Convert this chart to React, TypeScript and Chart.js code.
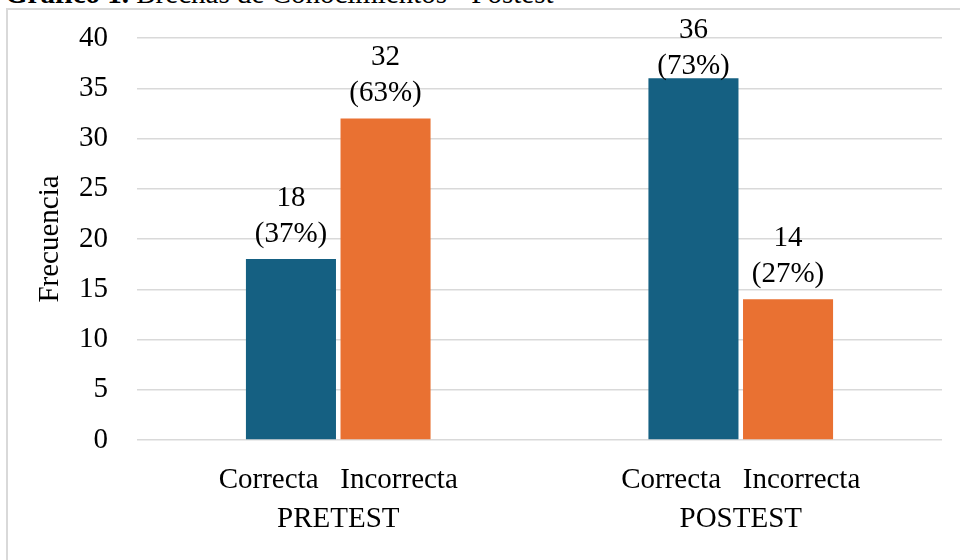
import React, { useEffect, useRef } from "react";
import { Chart, registerables } from "chart.js";

Chart.register(...registerables);

const groups = ["PRETEST", "POSTEST"];
const subLabel = "Correcta   Incorrecta";
const seriesNames = ["Correcta", "Incorrecta"];
const correcta = [18, 36];
const incorrecta = [32, 14];
const correctaPct = ["37%", "73%"];
const incorrectaPct = ["63%", "27%"];
const yTicks = { min: 0, max: 40, step: 5 };
const titleBold = "Gráfico 1.";
const titleRest = " Brechas de Conocimientos - Postest";
const yTitle = "Frecuencia";

const FONT = "'Liberation Serif', 'Times New Roman', serif";
const BLUE = "#156082";
const ORANGE = "#E97132";
const GRID = "#D9D9D9";

export default function App() {
  const ref = useRef<HTMLCanvasElement | null>(null);

  useEffect(() => {
    if (!ref.current) return;
    const pcts = [correctaPct, incorrectaPct];
    const labelPlugin = {
      id: "valueLabels",
      afterDatasetsDraw(chart: any) {
        const ctx = chart.ctx;
        ctx.save();
        ctx.font = `29px ${FONT}`;
        ctx.fillStyle = "#000";
        ctx.textAlign = "center";
        ctx.textBaseline = "middle";
        chart.data.datasets.forEach((ds: any, di: number) => {
          const meta = chart.getDatasetMeta(di);
          meta.data.forEach((bar: any, i: number) => {
            const lines = [String(ds.data[i]), `(${pcts[di][i]})`];
            let first = bar.y - 61;
            const minFirst = chart.chartArea.top - 8;
            if (first < minFirst) first = minFirst;
            lines.forEach((t, li) => {
              ctx.fillText(t, bar.x, first + li * 36);
            });
          });
        });
        ctx.restore();
      },
    };

    const chart = new Chart(ref.current, {
      type: "bar",
      data: {
        labels: groups.map((g) => [subLabel, g]),
        datasets: [
          {
            label: seriesNames[0],
            data: correcta,
            backgroundColor: BLUE,
            categoryPercentage: 0.47,
            barPercentage: 0.952,
          },
          {
            label: seriesNames[1],
            data: incorrecta,
            backgroundColor: ORANGE,
            categoryPercentage: 0.47,
            barPercentage: 0.952,
          },
        ],
      },
      options: {
        animation: false,
        responsive: false,
        maintainAspectRatio: false,
        layout: { padding: { left: 0, top: 38, right: 18, bottom: 0 } },
        plugins: {
          legend: { display: false },
          tooltip: { enabled: false },
        },
        scales: {
          x: {
            grid: { display: false },
            border: { display: false },
            ticks: {
              color: "#000",
              font: { family: FONT, size: 29, lineHeight: 1.345 },
              padding: 13,
              maxRotation: 0,
              autoSkip: false,
            },
            afterFit: (s: any) => {
              s.height = 120;
            },
          },
          y: {
            min: yTicks.min,
            max: yTicks.max,
            grid: {
              color: GRID,
              lineWidth: 1.5,
              drawTicks: true,
              tickLength: 29,
              tickColor: "rgba(0,0,0,0)",
            },
            border: { display: false },
            ticks: {
              stepSize: yTicks.step,
              color: "#000",
              font: { family: FONT, size: 29 },
              padding: 0,
            },
            title: {
              display: true,
              text: yTitle,
              color: "#000",
              font: { family: FONT, size: 29 },
              padding: { top: 33, bottom: 0 },
            },
            afterFit: (s: any) => {
              s.width = 137;
            },
          },
        },
      },
      plugins: [labelPlugin],
    });
    return () => chart.destroy();
  }, []);

  return (
    <div
      style={{
        position: "fixed",
        left: 0,
        top: 0,
        width: 960,
        height: 560,
        overflow: "hidden",
        background: "#fff",
      }}
    >
      <div
        style={{
          position: "absolute",
          left: 6,
          top: 8,
          width: 1000,
          height: 600,
          borderLeft: `2px solid ${GRID}`,
          borderTop: `2px solid ${GRID}`,
        }}
      />
      <div
        style={{
          position: "absolute",
          left: 5,
          top: -21,
          fontFamily: FONT,
          fontSize: 29,
          lineHeight: 1,
          whiteSpace: "nowrap",
          color: "#000",
        }}
      >
        <b>{titleBold}</b>
        {titleRest}
      </div>
      <canvas
        ref={ref}
        width={960}
        height={560}
        style={{ position: "absolute", left: 0, top: 0, width: 960, height: 560 }}
      />
    </div>
  );
}
